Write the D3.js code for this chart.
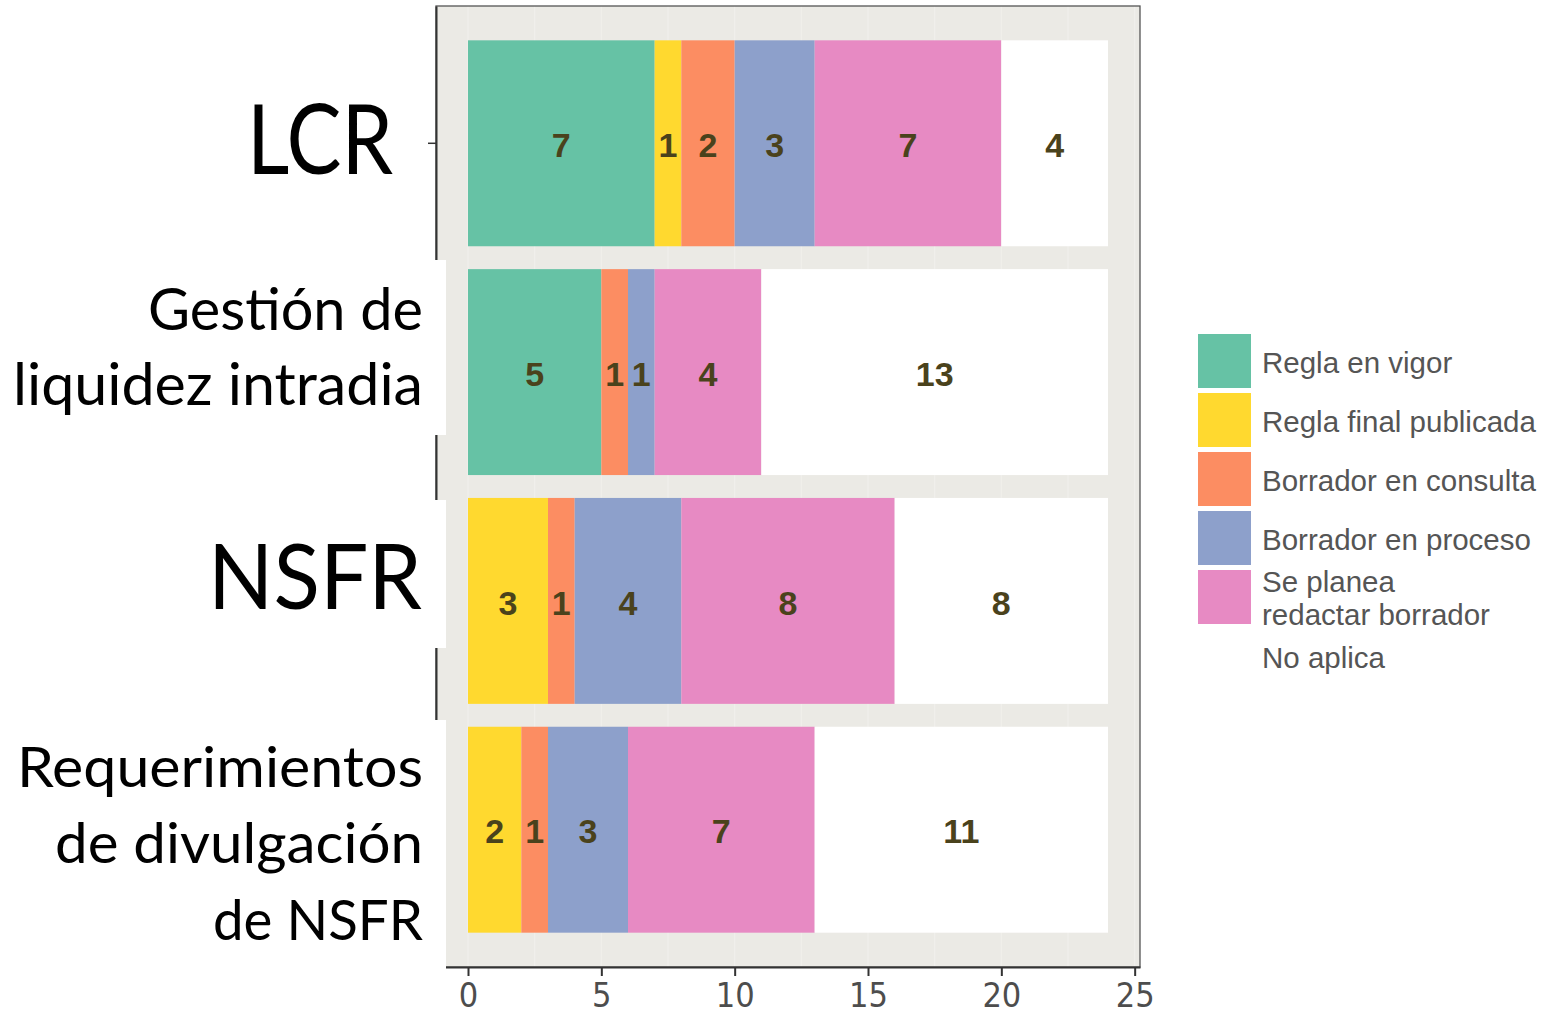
<!DOCTYPE html>
<html>
<head>
<meta charset="utf-8">
<script src="https://cdn.jsdelivr.net/npm/d3@7"></script>
<style>
  body { margin: 0; background: #ffffff; }
</style>
</head>
<body>
<div id="barchart"></div>
<script>

// categories, top to bottom
var categories = ["LCR", "Gestión de liquidez intradia", "NSFR", "Requerimientos de divulgación de NSFR"];
var categoryLines = [["LCR"], ["Gestión de", "liquidez intradia"], ["NSFR"], ["Requerimientos", "de divulgación", "de NSFR"]];

// status keys and their legend text
var statuses = ["Regla en vigor", "Regla final publicada", "Borrador en consulta", "Borrador en proceso", "Se planea redactar borrador", "No aplica"];
var statusLines = [["Regla en vigor"], ["Regla final publicada"], ["Borrador en consulta"], ["Borrador en proceso"], ["Se planea", "redactar borrador"], ["No aplica"]];
var statusColors = ["#66C2A5", "#FFD92F", "#FC8D62", "#8DA0CB", "#E78AC3", "#FFFFFF"];

// number of jurisdictions per status, one value per category
var reglaEnVigor = [7, 5, 0, 0];
var reglaFinal = [1, 0, 3, 2];
var borradorConsulta = [2, 1, 1, 1];
var borradorProceso = [3, 1, 4, 3];
var sePlanea = [7, 4, 8, 7];
var noAplica = [4, 13, 8, 11];

var xTicks = [0, 5, 10, 15, 20, 25];

function makeBarchart() {

  var width = 1551,
      height = 1015,
      panel = {left: 436, top: 6, right: 1140, bottom: 967};

  var svg = d3.select("#barchart")
      .append("svg")
      .attr("width", width)
      .attr("height", height);

  // rows for the stack
  var series = [reglaEnVigor, reglaFinal, borradorConsulta, borradorProceso, sePlanea, noAplica];
  var rows = categories.map(function(c, i) {
    var row = {category: c};
    statuses.forEach(function(s, j) { row[s] = series[j][i]; });
    return row;
  });
  var stacked = d3.stack().keys(statuses)(rows);

  // scales
  var xScale = d3.scaleLinear()
      .domain([-1.2, 25.2])
      .range([panel.left, panel.right]);

  var yScale = d3.scaleBand()
      .domain(categories)
      .range([panel.top, panel.bottom])
      .paddingInner(0.1)
      .paddingOuter(0.15);

  var color = d3.scaleOrdinal().domain(statuses).range(statusColors);

  // panel background
  svg.append("rect")
      .attr("x", panel.left)
      .attr("y", panel.top)
      .attr("width", panel.right - panel.left)
      .attr("height", panel.bottom - panel.top)
      .attr("fill", "#EBEAE5");

  // faint vertical grid lines (major and minor)
  var gridValues = d3.range(0, 25.1, 2.5);
  svg.append("g")
      .selectAll("line")
      .data(gridValues)
      .enter().append("line")
      .attr("x1", function(d) { return xScale(d); })
      .attr("x2", function(d) { return xScale(d); })
      .attr("y1", panel.top)
      .attr("y2", panel.bottom)
      .attr("stroke", "#F0EFEB")
      .attr("stroke-width", 1.2);

  // stacked bars
  var layer = svg.append("g")
      .selectAll("g")
      .data(stacked)
      .enter().append("g")
      .attr("fill", function(d) { return color(d.key); });

  layer.selectAll("rect")
      .data(function(d) { return d; })
      .enter().append("rect")
      .attr("x", function(d) { return xScale(d[0]); })
      .attr("y", function(d) { return yScale(d.data.category); })
      .attr("width", function(d) { return xScale(d[1]) - xScale(d[0]); })
      .attr("height", yScale.bandwidth());

  // value labels in the middle of each segment
  layer.selectAll("text")
      .data(function(d) { return d.filter(function(e) { return e[1] - e[0] > 0; }); })
      .enter().append("text")
      .attr("x", function(d) { return xScale((d[0] + d[1]) / 2); })
      .attr("y", function(d) { return yScale(d.data.category) + yScale.bandwidth() / 2; })
      .attr("dy", "0.4em")
      .attr("text-anchor", "middle")
      .attr("font-family", "'Liberation Sans', Arial, sans-serif")
      .attr("font-weight", "bold")
      .attr("font-size", 34)
      .attr("fill", "#4A421C")
      .text(function(d) { return d[1] - d[0]; });

  // panel border
  svg.append("rect")
      .attr("x", panel.left)
      .attr("y", panel.top)
      .attr("width", panel.right - panel.left)
      .attr("height", panel.bottom - panel.top)
      .attr("fill", "none")
      .attr("stroke", "#555555")
      .attr("stroke-width", 1.3);

  // axes
  var xAxis = d3.axisBottom(xScale)
      .tickValues(xTicks)
      .tickSize(9)
      .tickSizeOuter(0)
      .tickPadding(7);

  var gX = svg.append("g")
      .attr("transform", "translate(0," + panel.bottom + ")")
      .call(xAxis);
  gX.select(".domain").attr("stroke", "#333333").attr("stroke-width", 2);
  gX.selectAll(".tick line").attr("stroke", "#333333").attr("stroke-width", 2);
  gX.selectAll(".tick text")
      .attr("font-family", "'Liberation Sans Narrow', 'DejaVu Sans Condensed', sans-serif")
      .attr("font-size", 34)
      .attr("fill", "#4D4D4D");

  var yAxis = d3.axisLeft(yScale)
      .tickSize(8)
      .tickSizeOuter(0)
      .tickFormat("");

  var gY = svg.append("g")
      .attr("transform", "translate(" + panel.left + ",0)")
      .call(yAxis);
  gY.select(".domain").attr("stroke", "#333333").attr("stroke-width", 2);
  gY.selectAll(".tick line").attr("stroke", "#333333").attr("stroke-width", 1.5);

  // white boxes behind the big category labels (pasted over the plot)
  var labelBoxes = [null, [260, 435], [500, 648], [720, 975]];
  labelBoxes.forEach(function(b) {
    if (!b) return;
    svg.append("rect")
        .attr("x", 0)
        .attr("y", b[0])
        .attr("width", 446)
        .attr("height", b[1] - b[0])
        .attr("fill", "#FFFFFF");
  });

  // big category labels
  var labelSize = [96, 58, 92, 56];
  var labelRight = [393, 423, 422, 423];
  var labelBase = [[174], [330, 405], [609], [787, 863, 940]];
  var labelWidth = [[146], [275, 410], [214], [406, 368, 210]];

  categories.forEach(function(c, i) {
    categoryLines[i].forEach(function(line, k) {
      svg.append("text")
          .attr("x", labelRight[i])
          .attr("y", labelBase[i][k])
          .attr("text-anchor", "end")
          .attr("font-family", "Lato, 'Open Sans', sans-serif")
          .attr("font-size", labelSize[i])
          .attr("fill", "#000000")
          .attr("textLength", labelWidth[i][k])
          .attr("lengthAdjust", "spacingAndGlyphs")
          .text(line);
    });
  });

  // legend
  var legend = svg.append("g")
      .attr("transform", "translate(1198, 334)");

  var item = legend.selectAll("g")
      .data(statuses)
      .enter().append("g")
      .attr("transform", function(d, i) { return "translate(0," + (i * 59) + ")"; });

  item.append("rect")
      .attr("width", 53)
      .attr("height", 54)
      .attr("fill", function(d) { return color(d); });

  item.each(function(d, i) {
    var g = d3.select(this);
    var lines = statusLines[i];
    var start = lines.length == 1 ? 39 : 22;
    lines.forEach(function(line, k) {
      g.append("text")
          .attr("x", 64)
          .attr("y", start + k * 33)
          .attr("font-family", "'Liberation Sans', Arial, sans-serif")
          .attr("font-size", 29.5)
          .attr("fill", "#555555")
          .text(line);
    });
  });
}

makeBarchart();

</script>
</body>
</html>
